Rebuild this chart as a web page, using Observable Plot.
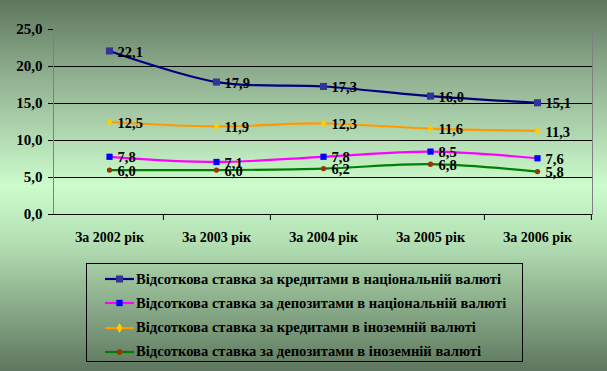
<!DOCTYPE html>
<html>
<head>
<meta charset="utf-8">
<script src="https://cdn.jsdelivr.net/npm/d3@7"></script>
<script src="https://cdn.jsdelivr.net/npm/@observablehq/plot@0.6"></script>
<style>
  html, body { margin: 0; padding: 0; }
  #wrap {
    position: relative; width: 607px; height: 371px; overflow: hidden;
    background: linear-gradient(to bottom, #5e775e 0%, #8fae8f 20%, #ccfccc 50%, #b4e0b4 65%, #5e775e 100%);
  }
  #wrap, #wrap * { font-family: 'Liberation Serif', 'Times New Roman', serif !important; }
  #chart { position: absolute; left: 0; top: 0; }
  #legend {
    position: absolute; left: 86px; top: 263px; width: 435px; height: 97px;
    border: 1px solid #000; box-sizing: content-box;
  }
  .item { position: absolute; left: 17px; height: 20px; display: flex; align-items: center;
    font-weight: bold; font-size: 14.6px; color: #000; white-space: nowrap; }
  .item svg { margin-right: 1px; }
</style>
</head>
<body>
<div id="wrap">
  <div id="chart"></div>
  <div id="legend"></div>
</div>
<script>
const categories = ["За 2002 рік", "За 2003 рік", "За 2004 рік", "За 2005 рік", "За 2006 рік"];
const seriesNames = [
  "Відсоткова ставка за кредитами в національній валюті",
  "Відсоткова ставка за депозитами в національній валюті",
  "Відсоткова ставка за кредитами в іноземній валюті",
  "Відсоткова ставка за депозитами в іноземній валюті"
];
const creditsNational = [22.1, 17.9, 17.3, 16.0, 15.1];
const depositsNational = [7.8, 7.1, 7.8, 8.5, 7.6];
const creditsForeign = [12.5, 11.9, 12.3, 11.6, 11.3];
const depositsForeign = [6.0, 6.0, 6.2, 6.8, 5.8];
const yTicks = [0, 5, 10, 15, 20, 25];

const lineColors = ["#000080", "#ff00ff", "#ff9900", "#008000"];
const markerColors = ["#333399", "#0000ff", "#ffcc00", "#993300"];
const markerShapes = ["square", "square", "diamond", "circle"];
const markerSizes = [4, 3.5, 2.7, 2.7];

const allValues = [creditsNational, depositsNational, creditsForeign, depositsForeign];
const data = [];
allValues.forEach((vals, s) => vals.forEach((v, i) => data.push({series: s, cat: categories[i], value: v})));

const fmt = v => v.toFixed(1).replace(".", ",");
const W = 607, H = 250, mL = 53, mR = 15;
const step = (W - mL - mR) / categories.length;
const FONT = "'Liberation Serif', 'Times New Roman', serif";

const marks = [
  Plot.ruleY(yTicks.filter(d => d > 0 && d < 25), {y: d => d, stroke: "#000", strokeWidth: 1}),
  Plot.frame({stroke: "#808080", fill: "none"}),
  Plot.ruleY([0], {stroke: "#000"}),
  Plot.ruleX(categories, {x: d => d, y1: 0, y2: 0, dx: step / 2, insetBottom: -6, stroke: "#000"}),
];
for (let s = 0; s < 4; s++) {
  const d = data.filter(r => r.series === s);
  marks.push(Plot.line(d, {x: "cat", y: "value", stroke: lineColors[s], strokeWidth: 2.2, curve: "cardinal"}));
}
for (let s = 0; s < 4; s++) {
  const d = data.filter(r => r.series === s);
  marks.push(Plot.dot(d, {x: "cat", y: "value", symbol: markerShapes[s], r: markerSizes[s], fill: markerColors[s], stroke: "none"}));
}
marks.push(Plot.text(data, {x: "cat", y: "value", text: d => fmt(d.value), textAnchor: "start", dx: 8, dy: 1,
  fontSize: 14.5, fontWeight: "bold", fill: "#000"}));

const plot = Plot.plot({
  width: W, height: H,
  marginLeft: mL, marginRight: mR, marginTop: 29, marginBottom: 36,
  style: {background: "transparent", fontSize: "14px", color: "#000", overflow: "visible", fontFamily: FONT, fontWeight: "bold"},
  x: {type: "point", domain: categories, padding: 0.5, tickSize: 0, tickPadding: 18, line: false, label: null},
  y: {domain: [0, 25], ticks: yTicks, tickFormat: fmt, tickSize: 5, tickPadding: 6, line: true, label: null},
  marks
});
document.getElementById("chart").appendChild(plot);
plot.querySelectorAll("text").forEach(t => { t.style.fontFamily = FONT; t.style.fontWeight = "bold"; });
plot.querySelectorAll("g[aria-label='y-axis'] text, g[aria-label='y-axis tick label'] text").forEach(t => { t.style.fontSize = "15px"; });

// legend
const leg = document.getElementById("legend");
seriesNames.forEach((name, s) => {
  const item = document.createElement("div");
  item.className = "item";
  item.style.top = (5 + s * 24.3) + "px";
  item.style.fontFamily = FONT;
  const sw = d3.create("svg").attr("width", 31).attr("height", 12);
  sw.append("line").attr("x1", 1).attr("x2", 30).attr("y1", 6).attr("y2", 6).attr("stroke", lineColors[s]).attr("stroke-width", 2.2);
  const sym = d3.symbol().type(markerShapes[s] === "square" ? d3.symbolSquare : markerShapes[s] === "diamond" ? d3.symbolDiamond : d3.symbolCircle)
    .size(markerShapes[s] === "square" ? (s === 0 ? 50 : 40) : markerShapes[s] === "diamond" ? 30 : 25);
  sw.append("path").attr("d", sym()).attr("transform", "translate(15.5,6)").attr("fill", markerColors[s]);
  item.appendChild(sw.node());
  const span = document.createElement("span");
  span.textContent = name;
  span.style.fontFamily = FONT;
  item.appendChild(span);
  leg.appendChild(item);
});
</script>
</body>
</html>
